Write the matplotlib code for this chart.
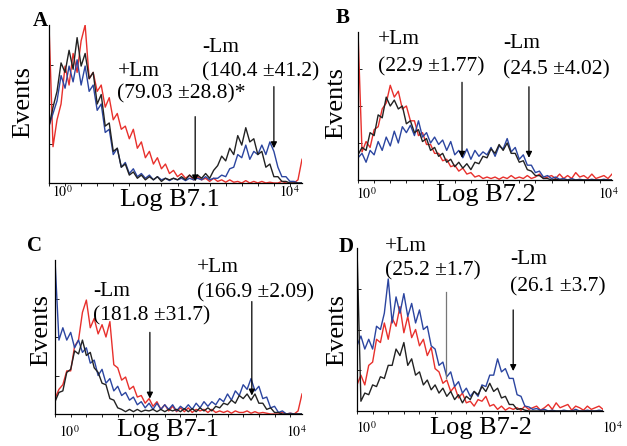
import numpy as np
import matplotlib
matplotlib.use("Agg")
import matplotlib.pyplot as plt

plt.rcParams['font.family'] = ['Liberation Serif', 'DejaVu Serif']
plt.rcParams['mathtext.fontset'] = 'stix'

# histogram counts (% of axis height), 64 channels spanning the log axis
a_red = [100, 23, 40, 50, 74, 62, 82, 70, 90, 100, 66, 70, 58, 62, 48, 54,
         40, 44, 34, 36, 28, 34, 22, 26, 16, 20, 12, 16, 9, 12, 6, 8,
         4, 6, 3, 5, 2, 4, 2, 3, 1, 3, 1, 2, 0.5, 2, 0.5, 1,
         0, 1.5, 0, 1, 0, 1, 0, 0.5, 0, 0, 1, 0, 0, 0, 2, 15]
a_black = [36, 48, 58, 76, 70, 84, 72, 92, 74, 82, 66, 70, 50, 56, 36, 38,
           20, 22, 10, 12, 5, 7, 3, 5, 2, 4, 2, 4, 1, 3, 2, 3,
           2, 4, 2, 5, 3, 5, 3, 6, 3, 8, 11, 17, 14, 22, 18, 30,
           24, 35, 26, 28, 18, 20, 10, 12, 4, 4, 1, 1, 0, 0, 0, 0]
a_blue = [36, 44, 52, 68, 60, 74, 64, 78, 62, 74, 58, 62, 46, 50, 32, 34,
          18, 22, 10, 13, 6, 9, 4, 6, 3, 5, 2, 4, 2, 3, 1.5, 3,
          2, 3, 1.5, 3, 2, 3, 2, 4, 2, 3, 3, 5, 4, 9, 10, 18,
          16, 24, 15, 20, 18, 24, 18, 26, 20, 10, 4, 4, 1, 1, 0, 0]

b_red = [100, 19, 26, 22, 34, 36, 48, 52, 64, 56, 60, 48, 50, 40, 40, 30,
         32, 24, 24, 18, 18, 13, 14, 9, 10, 6, 8, 4, 5, 2, 3, 1,
         2, 1, 2, 0.5, 2, 1, 3, 1, 2, 1, 3, 1, 2, 4, 1, 2,
         3, 1, 4, 1, 3, 1, 5, 2, 3, 1, 4, 1, 2, 3, 1, 4]
b_black = [17, 22, 20, 32, 30, 44, 42, 56, 50, 54, 48, 50, 38, 40, 32, 34,
           26, 28, 20, 22, 16, 18, 12, 14, 9, 12, 8, 11, 7, 12, 11, 16,
           15, 21, 18, 24, 20, 25, 18, 18, 12, 13, 7, 6, 3, 3, 1, 1,
           0, 0.5, 0, 0, 0, 0, 0, 0, 0, 0, 0, 0, 0, 0, 0, 0]
b_blue = [15, 18, 12, 20, 17, 26, 20, 29, 23, 33, 25, 36, 32, 37, 30, 40,
          29, 32, 25, 29, 24, 27, 20, 26, 17, 20, 15, 21, 14, 20, 16, 19,
          17, 22, 16, 23, 21, 28, 19, 22, 14, 17, 10, 10, 5, 6, 2, 3,
          1, 2, 0.5, 1, 0, 1, 0, 0.5, 0, 0, 0.5, 0, 0, 0.5, 0, 0]

c_red = [10, 16, 19, 28, 28, 44, 48, 66, 74, 56, 62, 52, 58, 50, 60, 32,
         30, 22, 24, 16, 18, 11, 12, 7, 10, 5, 8, 3, 6, 2, 5, 1.5,
         4, 1.5, 4, 1, 3, 2, 3, 1, 3, 1, 2, 1, 2, 0.5, 2, 1,
         1, 2, 0.5, 1.5, 0.5, 1, 0.5, 0, 0, 0, 1, 0, 0.5, 0, 2, 13]
c_black = [8, 14, 15, 27, 29, 41, 39, 48, 38, 40, 30, 27, 20, 19, 10, 9,
           4, 3, 1.5, 3, 1.5, 3, 1.5, 2.5, 2, 3, 1.5, 3, 1.5, 3, 2, 3,
           1.5, 3.5, 1.5, 3.5, 1.5, 4, 2, 4, 2, 5, 4, 7, 6, 9, 7, 12,
           10, 13, 9, 13, 7, 7, 3, 4, 1, 1, 0, 0, 0, 0, 0, 0]
c_blue = [100, 48, 56, 48, 53, 43, 48, 40, 43, 33, 35, 25, 29, 20, 23, 15,
          18, 12, 14, 9, 11, 6, 8, 4, 7, 3, 7, 3, 6, 3, 6, 2,
          5, 3, 6, 3, 7, 4, 8, 5, 8, 6, 10, 8, 13, 9, 15, 12,
          19, 16, 23, 15, 18, 10, 11, 4, 5, 1, 2, 0, 0.5, 0, 0, 0]

d_red = [16, 22, 16, 28, 30, 44, 42, 54, 44, 57, 52, 64, 48, 58, 45, 50,
         40, 44, 34, 39, 26, 24, 17, 19, 12, 15, 8, 11, 5, 6, 3, 7,
         6, 9, 3, 4, 1, 3, 0.5, 2, 1, 2, 0.5, 3, 1, 2, 3, 0.5,
         2, 4, 1, 5, 2, 3, 4, 0.5, 3, 2, 0.5, 3, 1, 2, 3, 1]
d_black = [100, 6, 11, 10, 16, 15, 21, 20, 28, 28, 38, 34, 42, 28, 32, 22,
           24, 16, 19, 13, 16, 11, 14, 9, 12, 7, 10, 5, 9, 7, 12, 10,
           15, 12, 17, 12, 14, 8, 9, 4, 4, 1, 1.5, 0.5, 0, 0, 0, 0,
           0, 0, 0, 0, 0, 0, 0, 0, 0, 0, 0, 0, 0, 0, 0, 0]
d_blue = [40, 46, 38, 44, 38, 52, 50, 60, 81, 54, 70, 60, 72, 58, 66, 54,
          62, 50, 52, 40, 38, 28, 30, 21, 24, 15, 18, 11, 14, 9, 12, 9,
          16, 15, 22, 22, 32, 24, 26, 20, 20, 10, 9, 3, 2.5, 1, 1.5, 0.5,
          1, 0, 0.5, 0, 0, 0.5, 0, 0, 1, 0, 0, 0.5, 0, 0, 0.5, 0]

panel_letters = ['A', 'B', 'C', 'D']
x_labels = ['Log B7.1', 'Log B7.2', 'Log B7-1', 'Log B7-2']
# arrow positions: channel, top, bottom (axis %), arrowhead
arrows = {
    'A': [(36.4, 42, 1, True), (56.0, 61, 22, True)],
    'B': [(25.8, 66, 15, True), (42.4, 63, 15, True)],
    'C': [(24.2, 53, 10, True), (50.2, 73, 12, True)],
    'D': [(22.8, 73, 20, False), (40.0, 62, 24.5, True)],
}
labels = {
    'A': [('+Lm', 118, 71), ('(79.03 \u00b128.8)*', 117, 94), ('-Lm', 202, 47), ('(140.4 \u00b141.2)', 202, 72)],
    'B': [('+Lm', 378, 39), ('(22.9 \u00b11.77)', 378, 67), ('-Lm', 503, 43), ('(24.5 \u00b14.02)', 503, 70)],
    'C': [('-Lm', 93, 292), ('(181.8 \u00b131.7)', 93, 316), ('+Lm', 197, 268), ('(166.9 \u00b12.09)', 197, 293)],
    'D': [('+Lm', 385, 246), ('(25.2 \u00b11.7)', 385, 271), ('-Lm', 510, 259), ('(26.1 \u00b13.7)', 510, 287)],
}

W, H = 627, 446
fig = plt.figure(figsize=(W / 100, H / 100), dpi=100)


def px(x, y):
    return x / W, 1 - y / H


# pixel boxes of the panels: left, right, top, bottom
boxes = {'A': (49, 302, 25, 183), 'B': (358, 612, 32, 180),
         'C': (55, 302, 260, 414), 'D': (357, 603, 248, 411)}
letter_pos = {'A': (40, 21), 'B': (343, 18), 'C': (35, 246), 'D': (346, 247)}
events_pos = {'A': (23, 102), 'B': (336, 103), 'C': (41, 330), 'D': (337, 330)}
xlabel_pos = {'A': (170, 200), 'B': (486, 195), 'C': (168, 430), 'D': (481, 428)}
tick_pos = {'A': (62, 289, 192), 'B': (366, 608, 194), 'C': (69, 296, 432), 'D': (366, 612, 428)}

series = {'A': (a_red, a_blue, a_black), 'B': (b_red, b_blue, b_black),
          'C': (c_red, c_blue, c_black), 'D': (d_red, d_blue, d_black)}

for i, key in enumerate(panel_letters):
    l, r, t, b = boxes[key]
    ax = fig.add_axes([l / W, 1 - b / H, (r - l) / W, (b - t) / H])
    red, blue, black = series[key]
    ch = np.arange(len(red))
    ax.plot(ch, red, color='#e8302c', lw=1.0)
    ax.plot(ch, blue, color='#2b45a0', lw=1.0)
    ax.plot(ch, black, color='#222222', lw=1.0)
    ax.set_xlim(0, 63)
    ax.set_ylim(0, 100)
    for s in ['top', 'right']:
        ax.spines[s].set_visible(False)
    for s in ['left', 'bottom']:
        ax.spines[s].set_linewidth(0.9)
    ax.set_xticks(np.arange(0, 64, 4))
    ax.set_xticklabels([])
    ax.tick_params(axis='x', length=2, width=0.6, direction='out')
    ax.set_yticks([25, 50, 75])
    ax.set_yticklabels([])
    ax.tick_params(axis='y', length=3, width=0.6, direction='in')

    for xa, ytop, ybot, head in arrows[key]:
        if head:
            ax.annotate('', xy=(xa, ybot), xytext=(xa, ytop),
                        arrowprops=dict(arrowstyle='-|>', color='black', lw=0.9,
                                        mutation_scale=9, shrinkA=0, shrinkB=0))
        else:
            ax.plot([xa, xa], [ytop, ybot], color='#777777', lw=0.9)

    for txt, x, y in labels[key]:
        fig.text(*px(x, y), txt, fontsize=15.5, ha='left', va='center')

    fig.text(*px(*letter_pos[key]), key, fontsize=15, fontweight='bold', ha='center', va='center')
    fig.text(*px(*events_pos[key]), 'Events', fontsize=19, rotation=90, ha='center', va='center')
    fig.text(*px(*xlabel_pos[key]), x_labels[i], fontsize=19, ha='center', va='center')
    x0, x4, yt = tick_pos[key]
    fig.text(*px(x0, yt), r'$10^0$', fontsize=10, ha='center', va='center')
    fig.text(*px(x4, yt), r'$10^4$', fontsize=10, ha='center', va='center')

fig.savefig('out.png', dpi=100)
